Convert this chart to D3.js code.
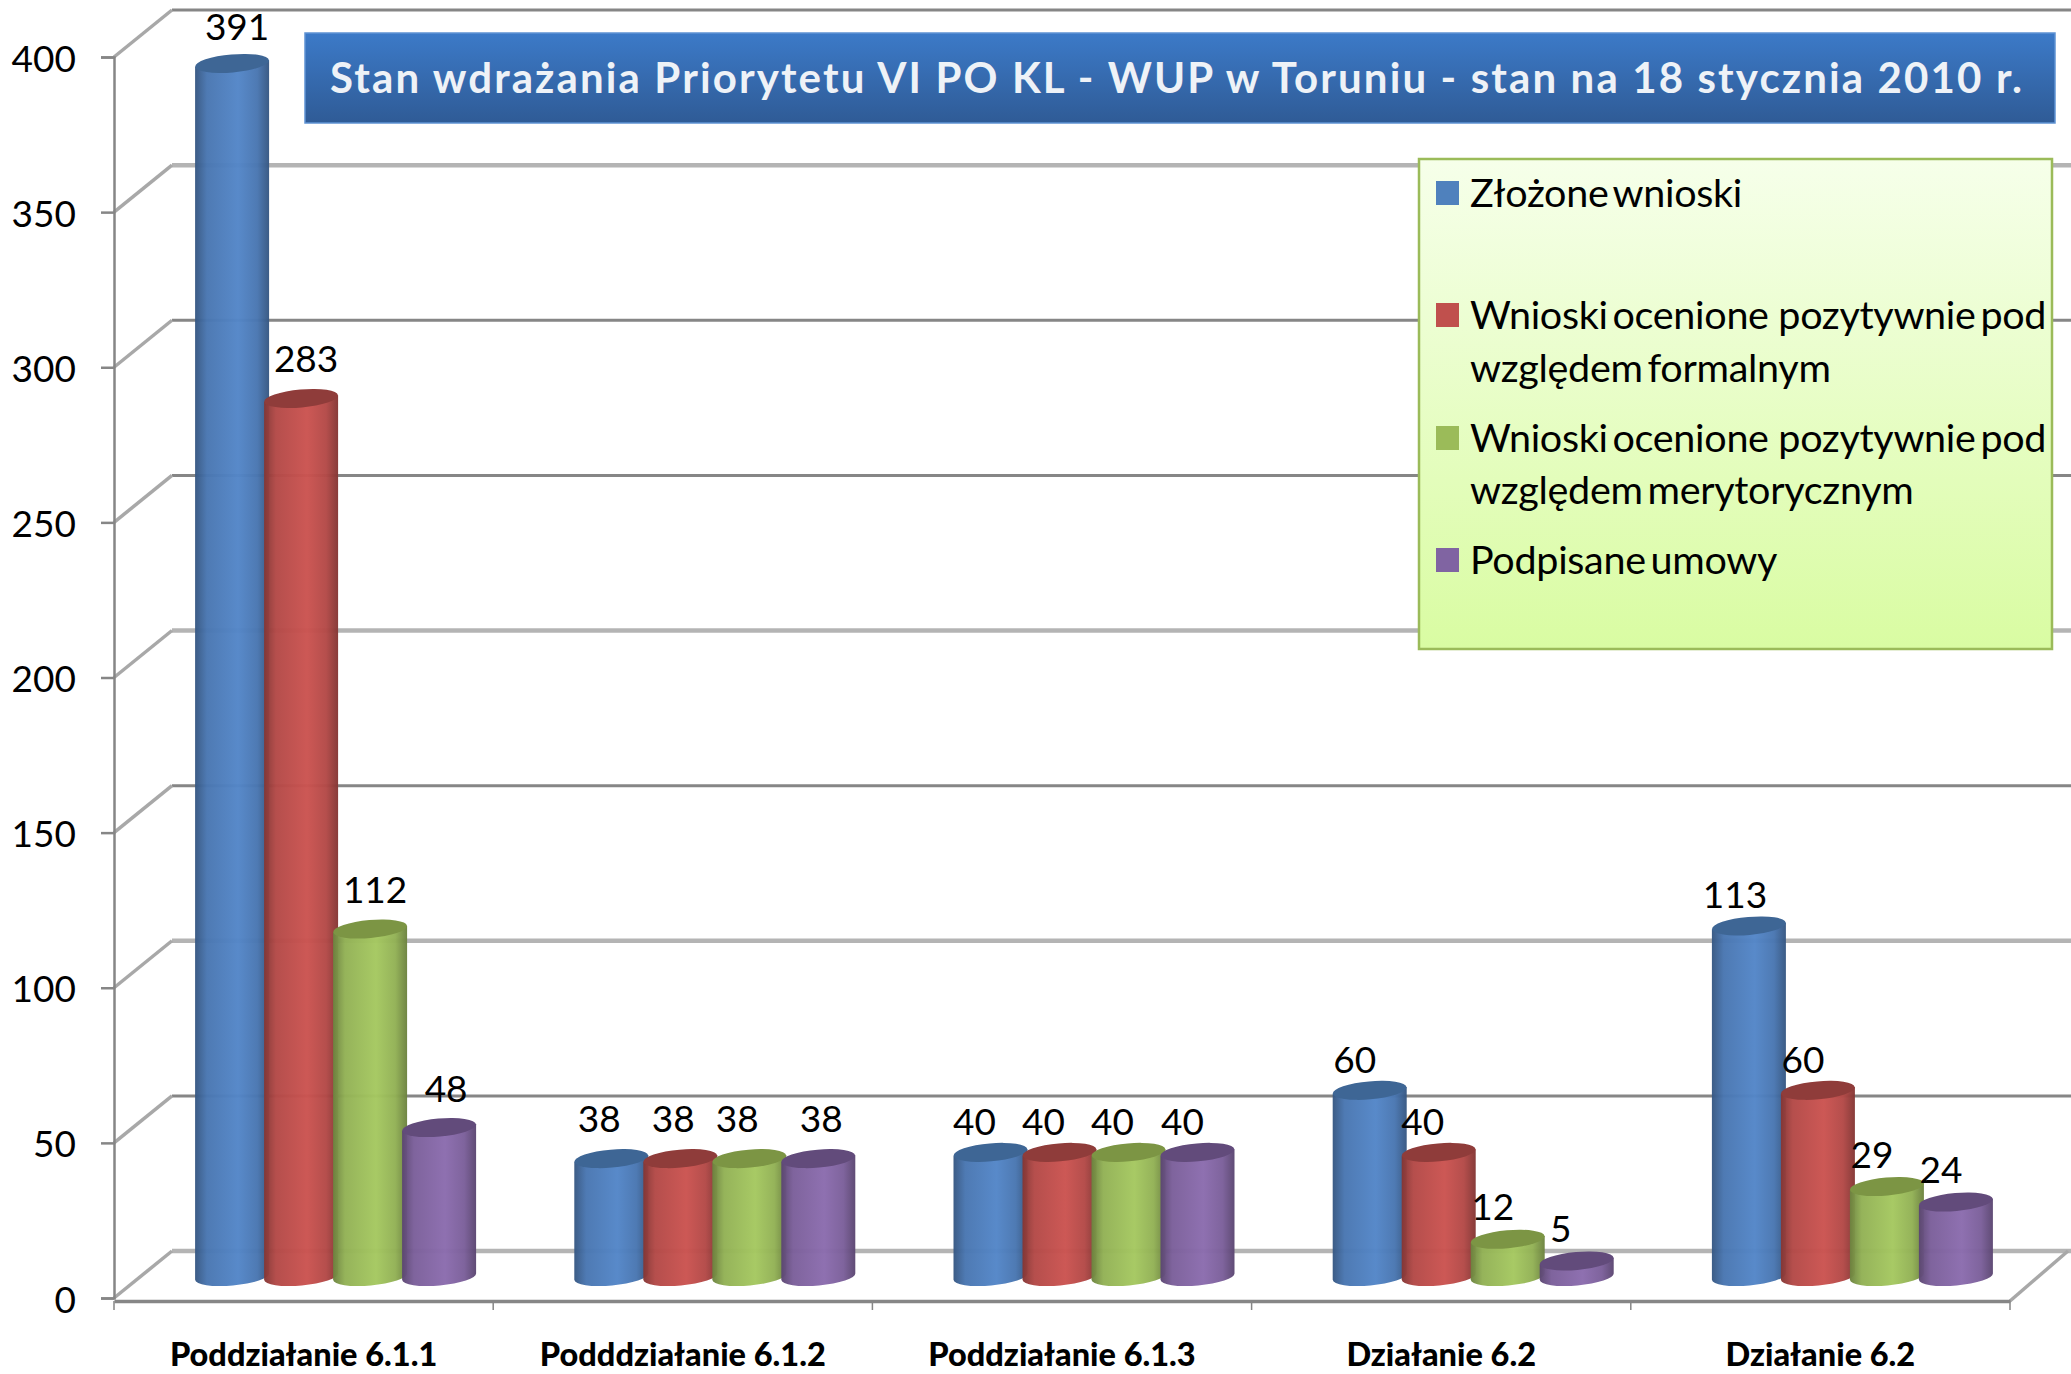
<!DOCTYPE html>
<html>
<head>
<meta charset="utf-8">
<title>Stan wdrażania Priorytetu VI PO KL</title>
<script src="https://cdnjs.cloudflare.com/ajax/libs/d3/7.8.5/d3.min.js"></script>
<style>
  html, body { margin: 0; padding: 0; background: #fff; overflow: hidden; }
  text { font-family: Lato, "Open Sans", sans-serif; fill: #000; }
</style>
</head>
<body>
<script>
const titleText = "Stan wdrażania Priorytetu VI PO KL - WUP w Toruniu - stan na 18 stycznia 2010 r.";
const categories = ["Poddziałanie 6.1.1", "Podddziałanie 6.1.2", "Poddziałanie 6.1.3", "Działanie 6.2", "Działanie 6.2"];
const seriesNames = [
    ["Złożone wnioski"],
    ["Wnioski ocenione  pozytywnie pod", "względem formalnym"],
    ["Wnioski ocenione  pozytywnie pod", "względem merytorycznym"],
    ["Podpisane umowy"]
];
const zlozone = [391, 38, 40, 60, 113];
const formalne = [283, 38, 40, 40, 60];
const merytoryczne = [112, 38, 40, 12, 29];
const umowy = [48, 38, 40, 5, 24];
const yTicks = [0, 50, 100, 150, 200, 250, 300, 350, 400];
// these gridlines came out lighter and thicker in the picture
const softTicks = [0, 100, 200, 350];

const seriesValues = [zlozone, formalne, merytoryczne, umowy];
const barColors = ["#5386c8", "#cb5350", "#a5c860", "#8b6cae"];
const topColors = ["#3e6695", "#8f3c3a", "#7c9544", "#624b7b"];
const legendColors = ["#4f81bd", "#c0504d", "#9bbb59", "#8064a2"];

// data labels were hand placed in the original chart, offsets per group / series
const labelDx = [
    [5, 5, 5, 7],
    [-12, -7, -12, 3],
    [-16, -16, -16, -15],
    [-15, -16, -15, -16],
    [-14, -15, -15, -15]
];
const labelDy = [
    [-38, -41, -41, -40],
    [-41, -41, -41, -41],
    [-32, -32, -32, -32],
    [-32, -32, -34, -33],
    [-32, -32, -33, -34]
];

const width = 2071, height = 1374;
const gridColor = "#868686";
const depthX = 58, depthY = -47;

const svg = d3.select("body").append("svg")
    .attr("width", width)
    .attr("height", height);

const defs = svg.append("defs");

barColors.forEach(function (c, i) {
    const g = defs.append("linearGradient").attr("id", "bar" + i);
    const dark = d3.color(c).darker(1.2);
    const soft = d3.color(c).darker(0.35);
    g.append("stop").attr("offset", "0").attr("stop-color", dark);
    g.append("stop").attr("offset", "0.16").attr("stop-color", soft);
    g.append("stop").attr("offset", "0.58").attr("stop-color", c);
    g.append("stop").attr("offset", "0.84").attr("stop-color", soft);
    g.append("stop").attr("offset", "1").attr("stop-color", dark);
});

const titleGrad = defs.append("linearGradient").attr("id", "titleGrad").attr("x2", 0).attr("y2", 1);
titleGrad.append("stop").attr("offset", "0").attr("stop-color", "#3c7ac8");
titleGrad.append("stop").attr("offset", "1").attr("stop-color", "#2f5b96");

const legendGrad = defs.append("linearGradient").attr("id", "legendGrad").attr("x2", 0).attr("y2", 1);
legendGrad.append("stop").attr("offset", "0").attr("stop-color", "#f6ffea");
legendGrad.append("stop").attr("offset", "1").attr("stop-color", "#d9fca2");

const y = d3.scaleLinear().domain([0, 400]).range([1298, 57]);
const x0 = d3.scaleBand().domain(d3.range(categories.length)).range([114, 2010]);
const x1 = d3.scaleBand().domain(d3.range(seriesNames.length)).range([0, 276]);

// back wall
const walls = svg.append("g");

walls.selectAll("line.grid")
    .data(yTicks)
    .enter().append("line")
    .attr("class", "grid")
    .attr("x1", 114 + depthX)
    .attr("x2", width)
    .attr("y1", function (d) { return y(d) + depthY; })
    .attr("y2", function (d) { return y(d) + depthY; })
    .attr("stroke", function (d) { return softTicks.includes(d) ? "#b4b4b4" : gridColor; })
    .attr("stroke-width", function (d) { return softTicks.includes(d) ? 4.5 : 3; });

walls.selectAll("line.side")
    .data(yTicks)
    .enter().append("line")
    .attr("class", "side")
    .attr("x1", 114)
    .attr("x2", 114 + depthX)
    .attr("y1", function (d) { return y(d); })
    .attr("y2", function (d) { return y(d) + depthY; })
    .attr("stroke", "#a8a8a8")
    .attr("stroke-width", 3.5);

walls.append("line")
    .attr("x1", 2010).attr("x2", 2010 + depthX)
    .attr("y1", y(0) + 3).attr("y2", y(0) + depthY)
    .attr("stroke", "#a8a8a8")
    .attr("stroke-width", 3.5);

// axes
const yAxis = svg.append("g")
    .attr("transform", "translate(114,0)")
    .call(d3.axisLeft(y).tickValues(yTicks).tickSize(13).tickPadding(25));
yAxis.select(".domain").attr("stroke", gridColor).attr("stroke-width", 2.5);
yAxis.selectAll(".tick line").attr("stroke", gridColor).attr("stroke-width", 2.5);
yAxis.selectAll("text")
    .attr("dy", "0.38em")
    .style("font-family", "Lato")
    .style("font-size", "37px")
    .attr("fill", "#000");

const xAxis = svg.append("g")
    .attr("transform", "translate(0,1301)")
    .call(d3.axisBottom(x0).tickSize(0).tickPadding(42).tickFormat(function (i) { return categories[i]; }));
xAxis.select(".domain").attr("stroke", gridColor).attr("stroke-width", 3.5);
xAxis.selectAll("text")
    .style("font-family", "Lato")
    .style("font-size", "32.5px")
    .style("font-weight", "900")
    .attr("fill", "#000");

svg.append("g").selectAll("line")
    .data(d3.range(categories.length + 1))
    .enter().append("line")
    .attr("x1", function (i) { return 114 + i * x0.step(); })
    .attr("x2", function (i) { return 114 + i * x0.step(); })
    .attr("y1", 1301)
    .attr("y2", 1310)
    .attr("stroke", gridColor)
    .attr("stroke-width", 1.5);

// bars sit half way into the depth of the floor
const barShiftX = depthX / 2 + 3 + 0.5 * (x0.bandwidth() - x1.range()[1]);
const barShiftY = depthY / 2 + 2;
const rx = x1.bandwidth() / 2 + 2.5, ry = 9, tilt = 5;
const lift = rx * Math.tan(tilt * Math.PI / 180);

const groups = svg.append("g").selectAll("g")
    .data(categories)
    .enter().append("g")
    .attr("transform", function (d, i) { return `translate(${x0(i) + barShiftX}, ${barShiftY})`; });

groups.each(function (c, i) {
    const group = d3.select(this);
    seriesValues.forEach(function (values, s) {
        const cx = x1(s) + x1.bandwidth() / 2;
        const yTop = y(values[i]);
        const yBase = y(0);

        const p = d3.path();
        p.moveTo(cx - rx, yTop + lift);
        p.lineTo(cx - rx, yBase + lift);
        group.append("path")
            .attr("d", p.toString()
                + `A${rx},${ry} ${-tilt} 0 0 ${cx + rx},${yBase - lift}`
                + `L${cx + rx},${yTop - lift}Z`)
            .attr("fill", "url(#bar" + s + ")")
            .attr("opacity", 0.97);

        group.append("ellipse")
            .attr("transform", `translate(${cx}, ${yTop}) rotate(${-tilt})`)
            .attr("rx", rx)
            .attr("ry", ry)
            .attr("fill", topColors[s]);
    });
});

// value labels on top of all the bars
groups.each(function (c, i) {
    const group = d3.select(this);
    seriesValues.forEach(function (values, s) {
        group.append("text")
            .attr("x", x1(s) + x1.bandwidth() / 2 + labelDx[i][s])
            .attr("y", y(values[i]) + labelDy[i][s])
            .attr("text-anchor", "middle")
            .attr("dominant-baseline", "central")
            .style("font-size", "37px")
            .text(values[i]);
    });
});

// title box
svg.append("rect")
    .attr("x", 305).attr("y", 33)
    .attr("width", 1750).attr("height", 90)
    .attr("fill", "url(#titleGrad)")
    .attr("stroke", "#5f93d3")
    .attr("stroke-width", 1.5);

svg.append("text")
    .attr("x", 330)
    .attr("y", 93)
    .attr("textLength", 1692)
    .attr("lengthAdjust", "spacing")
    .style("font-size", "42px")
    .style("font-weight", "700")
    .style("fill", "#eef2f7")
    .text(titleText);

// legend box
svg.append("rect")
    .attr("x", 1419).attr("y", 159)
    .attr("width", 633).attr("height", 490)
    .attr("fill", "url(#legendGrad)")
    .attr("stroke", "#9bbb59")
    .attr("stroke-width", 2.5);

const legendBaselines = [[207], [329, 382], [452, 504], [574]];

legendBaselines.forEach(function (lines, i) {
    svg.append("rect")
        .attr("x", 1436)
        .attr("y", lines[0] - 26)
        .attr("width", 23)
        .attr("height", 24)
        .attr("fill", legendColors[i]);
    lines.forEach(function (b, j) {
        svg.append("text")
            .attr("x", 1470)
            .attr("y", b)
            .style("font-size", "39.5px")
            .style("letter-spacing", "-0.3px")
            .style("word-spacing", "-5px")
            .style("white-space", "pre")
            .text(seriesNames[i][j]);
    });
});
</script>
</body>
</html>
